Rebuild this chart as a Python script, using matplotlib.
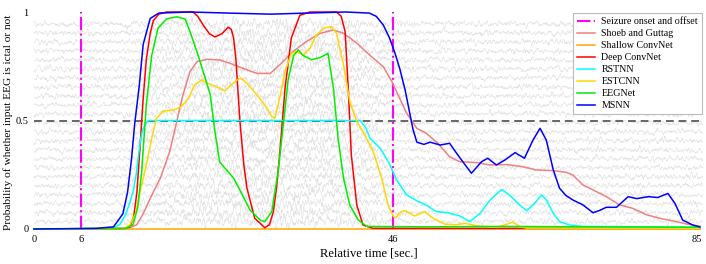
import numpy as np
import matplotlib
matplotlib.use("Agg")
import matplotlib.pyplot as plt

plt.rcParams['font.family'] = ['Liberation Serif', 'DejaVu Serif']

# onset / offset of the seizure [sec.]
onset_offset = [6, 46]

# MSNN
t_msnn = [0, 8, 10.2, 11.4, 12.0, 12.5, 12.9, 13.5, 14.0, 14.9, 16, 20, 25, 30.3, 35, 40, 43.0, 43.9,
          44.8, 45.6, 46.3, 46.9, 47.6, 48.1, 48.6, 49.1, 50.0, 50.8, 52.1, 53.3, 54.2, 55.2, 56.1,
          57.4, 58.2, 59.3, 60.4, 61.7, 62.9, 64.0, 64.9, 65.7, 66.6, 67.4, 68.2, 69.1, 70.4, 71.7,
          72.5, 73.4, 74.7, 76.2, 77.3, 78.8, 80.0, 81.3, 82.2, 83.2, 84.5, 85.4]
p_msnn = [0, 0.003, 0.01, 0.07, 0.17, 0.32, 0.48, 0.66, 0.85, 0.97, 0.995, 1.0, 0.995, 0.99, 0.995,
          1.0, 0.995, 0.98, 0.94, 0.88, 0.81, 0.74, 0.64, 0.55, 0.46, 0.40, 0.39, 0.40, 0.387, 0.395,
          0.349, 0.30, 0.257, 0.31, 0.326, 0.295, 0.318, 0.352, 0.326, 0.41, 0.464, 0.41, 0.272,
          0.188, 0.155, 0.134, 0.111, 0.075, 0.085, 0.10, 0.10, 0.149, 0.14, 0.149, 0.145, 0.164,
          0.118, 0.041, 0.018, 0.01]

# Deep ConvNet
t_deep = [0, 11.5, 12.3, 12.8, 13.2, 13.6, 14.0, 14.4, 14.9, 15.3, 16.0, 17, 20.4, 21.0, 21.7, 22.5,
          23.2, 24.1, 24.9, 25.3, 25.6, 25.9, 26.4, 26.9, 27.3, 28.3, 29.6, 30.2, 30.7, 31.1, 31.5,
          32.2, 33.0, 34.1, 35.4, 38.8, 39.4, 39.9, 40.3, 40.7, 41.4, 42.2, 43.5, 85.4]
p_deep = [0, 0.002, 0.01, 0.06, 0.17, 0.38, 0.60, 0.78, 0.90, 0.96, 0.99, 1.0, 1.0, 0.98, 0.94, 0.90,
          0.885, 0.90, 0.93, 0.92, 0.88, 0.78, 0.50, 0.30, 0.19, 0.05, 0.006, 0.02, 0.08, 0.19, 0.34,
          0.65, 0.88, 0.985, 1.0, 1.0, 0.98, 0.91, 0.65, 0.34, 0.11, 0.018, 0.003, 0.003]

# EEGNet
t_eegnet = [0, 11.8, 12.7, 13.3, 13.8, 14.4, 15.1, 15.9, 17.0, 18.3, 19.4, 20.0, 20.9, 21.7, 22.6,
            23.2, 23.8, 24.5, 25.6, 26.4, 27.7, 29.0, 29.6, 30.5, 31.3, 32.0, 32.6, 33.3, 33.9, 34.5,
            35.6, 36.7, 37.7, 38.4, 39.0, 39.7, 40.5, 41.6, 42.7, 50, 60, 70, 85.4]
p_eegnet = [0, 0.003, 0.02, 0.10, 0.26, 0.57, 0.80, 0.925, 0.968, 0.978, 0.967, 0.91, 0.817, 0.725,
            0.62, 0.45, 0.31, 0.28, 0.234, 0.18, 0.088, 0.041, 0.034, 0.08, 0.264, 0.49, 0.69, 0.80,
            0.825, 0.80, 0.78, 0.79, 0.81, 0.65, 0.418, 0.234, 0.11, 0.041, 0.012, 0.01, 0.012,
            0.01, 0.008]

# RSTNN
t_rstnn = [0, 10.0, 11.0, 11.8, 12.7, 13.1, 13.4, 13.7, 14.0, 14.4, 14.7, 15.5, 41.8, 42.5, 43.1,
           44.4, 45.6, 46.5, 47.8, 49.1, 50.3, 51.6, 53.1, 54.6, 55.9, 57.2, 58.5, 60.0, 61.2, 62.3,
           63.2, 64.2, 65.1, 65.7, 66.6, 67.4, 68.7, 70.4, 85.4]
p_rstnn = [0, 0.003, 0.02, 0.07, 0.17, 0.25, 0.34, 0.42, 0.464, 0.49, 0.5, 0.5, 0.5, 0.47, 0.418,
           0.372, 0.30, 0.226, 0.157, 0.13, 0.11, 0.08, 0.075, 0.06, 0.034, 0.072, 0.134, 0.183,
           0.149, 0.11, 0.084, 0.118, 0.157, 0.134, 0.072, 0.034, 0.018, 0.012, 0.008]

# ESTCNN
t_estcnn = [0, 11.5, 12.3, 13.0, 13.6, 14.4, 15.1, 15.7, 16.6, 17.9, 18.9, 19.8, 20.6, 21.5, 22.3,
            23.4, 24.5, 25.3, 26.2, 26.6, 27.3, 28.6, 29.6, 30.5, 30.9, 31.5, 32.2, 33.0, 33.7, 34.5,
            35.4, 36.2, 37.3, 38.2, 38.8, 39.7, 40.5, 41.4, 42.2, 43.5, 44.6, 45.4, 46.1, 46.4, 47.1,
            47.6, 48.8, 50.1, 51.2, 52.7, 54.2, 55.3, 56.8, 58.5, 59.7, 61.4, 62.3, 63.2, 85.4]
p_estcnn = [0, 0.002, 0.02, 0.07, 0.17, 0.295, 0.418, 0.51, 0.544, 0.548, 0.564, 0.602, 0.664, 0.687,
            0.671, 0.656, 0.636, 0.664, 0.691, 0.694, 0.671, 0.618, 0.571, 0.518, 0.51, 0.602, 0.725,
            0.81, 0.817, 0.80, 0.833, 0.894, 0.928, 0.932, 0.902, 0.756, 0.587, 0.494, 0.449, 0.356,
            0.234, 0.11, 0.057, 0.052, 0.08, 0.085, 0.06, 0.08, 0.049, 0.022, 0.02, 0.026, 0.014,
            0.01, 0.01, 0.032, 0.01, 0.004, 0.003]

# Shoeb and Guttag
t_shoeb = [0, 12.0, 13.2, 14.0, 14.9, 16.2, 17.4, 18.3, 19.1, 20.0, 20.9, 22.2, 23.8, 25.1, 26.8,
           28.6, 30.3, 31.5, 33.2, 34.9, 36.7, 38.4, 39.7, 41.4, 43.1, 44.8, 45.9, 46.9, 47.8, 49.1,
           50.3, 51.8, 53.3, 54.6, 56.8, 58.5, 60.6, 62.7, 64.4, 66.6, 68.3, 69.1, 70.4, 71.7, 73.4,
           75.1, 76.8, 78.6, 80.3, 82.0, 83.7, 85.4]
p_shoeb = [0, 0.002, 0.02, 0.07, 0.141, 0.234, 0.356, 0.494, 0.618, 0.725, 0.771, 0.782, 0.779,
           0.764, 0.74, 0.717, 0.717, 0.756, 0.817, 0.863, 0.902, 0.917, 0.902, 0.856, 0.80, 0.748,
           0.679, 0.602, 0.533, 0.464, 0.441, 0.395, 0.333, 0.31, 0.306, 0.295, 0.297, 0.287,
           0.272, 0.269, 0.261, 0.249, 0.203, 0.18, 0.149, 0.111, 0.095, 0.065, 0.049, 0.037,
           0.023, 0.012]

# Shallow ConvNet (stays at zero)
t_shallow = [0, 85.4]
p_shallow = [0, 0]

x_ticks = [0, 6, 46, 85]
y_ticks = [0, 0.5, 1]
y_tick_labels = ['0', '0.5', '1']

fig = plt.figure(figsize=(7.06, 2.64), dpi=100)
ax = fig.add_axes([34 / 706, 35 / 264, 669 / 706, 217 / 264])

# raw EEG channels drawn as a faint background texture
rng = np.random.default_rng(3)
n_ch = 23
tt = np.linspace(0, 85.8, 2200)
env = 1 + 1.1 * np.exp(-((tt - 30) / 15) ** 4)
kern = np.ones(5) / 5
for k in range(n_ch):
    base = 0.034 + k * (0.945 - 0.034) / (n_ch - 1)
    w = np.convolve(rng.normal(size=tt.size), kern, mode='same')
    ax.plot(tt, base + 0.014 * env * w, color='#e2e2e2', lw=0.45, zorder=0)

ax.axhline(0.5, color='#666666', ls=(0, (4, 2.5)), lw=1.4, zorder=1)

ax.axvline(onset_offset[0], ymin=0, ymax=1, color='#ff00ff', ls='-.', lw=1.5,
           label='Seizure onset and offset', zorder=2)
ax.axvline(onset_offset[1], ymin=0, ymax=1, color='#ff00ff', ls='-.', lw=1.5, zorder=2)

lw = 1.1
ax.plot(t_shoeb, p_shoeb, color='#f08080', lw=lw, label='Shoeb and Guttag', zorder=3, clip_on=False)
ax.plot(t_shallow, p_shallow, color='#ffa500', lw=lw, label='Shallow ConvNet', zorder=3, clip_on=False)
ax.plot(t_deep, p_deep, color='#ff0000', lw=lw, label='Deep ConvNet', zorder=3, clip_on=False)
ax.plot(t_rstnn, p_rstnn, color='#00ffff', lw=lw, label='RSTNN', zorder=3, clip_on=False)
ax.plot(t_estcnn, p_estcnn, color='#ffd700', lw=lw, label='ESTCNN', zorder=3, clip_on=False)
ax.plot(t_eegnet, p_eegnet, color='#00ee00', lw=lw, label='EEGNet', zorder=3, clip_on=False)
ax.plot(t_msnn, p_msnn, color='#0000ff', lw=lw, label='MSNN', zorder=3, clip_on=False)

ax.set_xlim(0, 85.8)
ax.set_ylim(0, 1)
ax.set_xticks(x_ticks)
ax.set_yticks(y_ticks)
ax.set_yticklabels(y_tick_labels)
ax.tick_params(length=0, labelsize=7.5, pad=4)
for s in ax.spines.values():
    s.set_visible(False)

ax.set_xlabel('Relative time [sec.]', fontsize=9, labelpad=3)
fig.text(8 / 706, 1 - 122 / 264, 'Probability of whether input EEG is ictal or not',
         rotation=90, ha='center', va='center', fontsize=8.2)

leg = ax.legend(loc='upper right', fontsize=7.2, frameon=True, fancybox=False,
                edgecolor='#bbbbbb', framealpha=1, handlelength=1.8, handletextpad=0.6,
                labelspacing=0.3, borderaxespad=0.1, borderpad=0.4)
leg.get_frame().set_linewidth(0.8)

fig.savefig('out.png', dpi=100)
